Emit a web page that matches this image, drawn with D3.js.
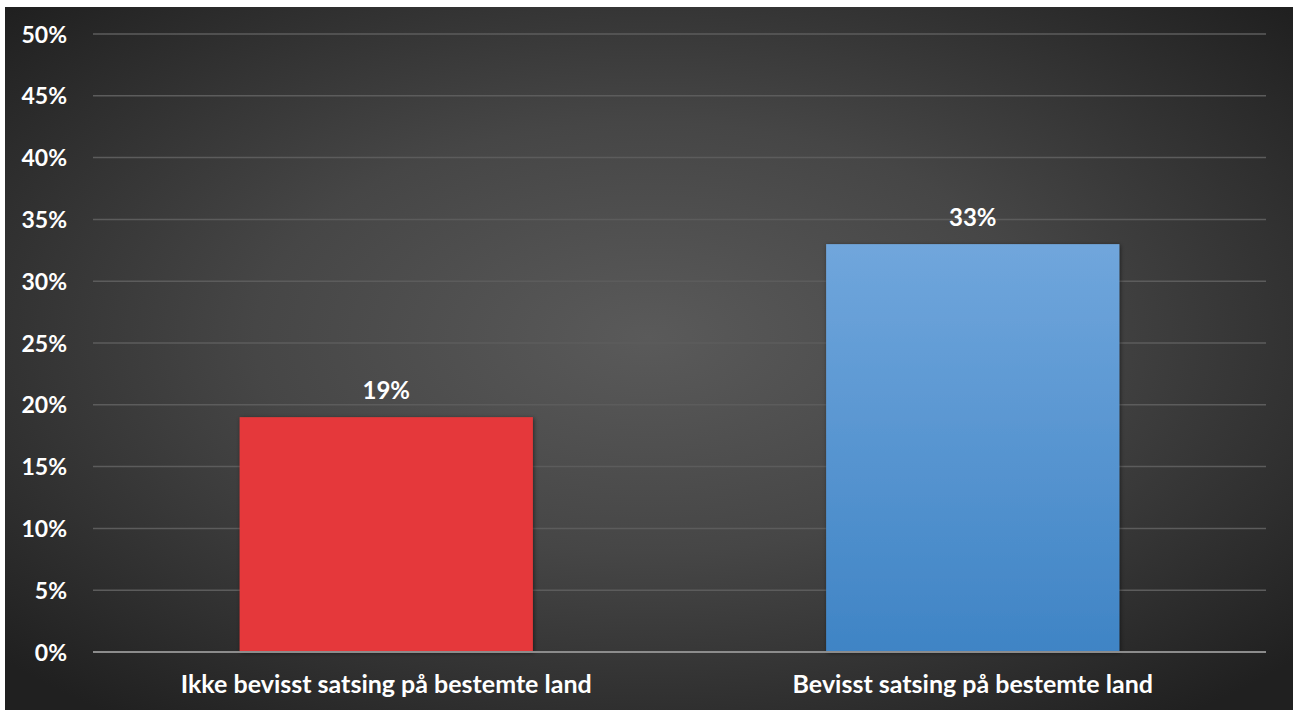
<!DOCTYPE html>
<html>
<head>
<meta charset="utf-8">
<script src="https://cdn.jsdelivr.net/npm/d3@7"></script>
<style>
  html, body { margin: 0; padding: 0; background: #ffffff; }
  svg { display: block; }
</style>
</head>
<body>
<svg id="chart" width="1293" height="710"></svg>
<script>
// Share of respondents per strategy
const categories = ["Ikke bevisst satsing på bestemte land", "Bevisst satsing på bestemte land"];
const values = [0.19, 0.33];
const tickValues = [0, 0.05, 0.10, 0.15, 0.20, 0.25, 0.30, 0.35, 0.40, 0.45, 0.50];

const W = 1293, H = 710;
const svg = d3.select("#chart");
const defs = svg.append("defs");

// Dark radial backdrop
const bg = defs.append("radialGradient").attr("id", "bg")
  .attr("cx", "50%").attr("cy", "47%").attr("r", "68%")
  .attr("gradientUnits", "objectBoundingBox");
bg.append("stop").attr("offset", "0%").attr("stop-color", "#5a5a5a");
bg.append("stop").attr("offset", "45%").attr("stop-color", "#464646");
bg.append("stop").attr("offset", "100%").attr("stop-color", "#202020");

const blue = defs.append("linearGradient").attr("id", "blueFill")
  .attr("x1", 0).attr("y1", 0).attr("x2", 0).attr("y2", 1);
blue.append("stop").attr("offset", "0%").attr("stop-color", "#70a6dc");
blue.append("stop").attr("offset", "100%").attr("stop-color", "#3f84c5");

const shadow = defs.append("filter").attr("id", "shadow")
  .attr("x", "-10%").attr("y", "-10%").attr("width", "120%").attr("height", "120%");
shadow.append("feDropShadow").attr("dx", 1).attr("dy", 1).attr("stdDeviation", 2)
  .attr("flood-color", "#000").attr("flood-opacity", 0.5);

svg.append("rect").attr("x", 5).attr("y", 7).attr("width", W - 5).attr("height", H - 7)
  .attr("fill", "url(#bg)");

const margin = { left: 93, right: 27, top: 34, bottom: 58 };
const x = d3.scaleBand().domain(categories)
  .range([margin.left, W - margin.right]).paddingInner(0.5).paddingOuter(0.25);
const y = d3.scaleLinear().domain([0, 0.5]).range([H - margin.bottom, margin.top]);

const font = "Lato, 'Open Sans', sans-serif";

// Gridlines
svg.append("g").selectAll("line").data(tickValues.filter(d => d > 0)).join("line")
  .attr("x1", margin.left).attr("x2", W - margin.right)
  .attr("y1", d => y(d)).attr("y2", d => y(d))
  .attr("stroke", "#5c5c5c").attr("stroke-width", 1.5);

// Y axis labels
const yAxis = svg.append("g").attr("transform", `translate(${margin.left - 26},0)`)
  .call(d3.axisLeft(y).tickValues(tickValues).tickFormat(d3.format(".0%")).tickSize(0).tickPadding(0));
yAxis.select(".domain").remove();
yAxis.selectAll("text").attr("fill", "#ffffff").attr("font-family", font)
  .attr("font-weight", 700).attr("font-size", 23).attr("dy", "0.35em");

// Bars
const colors = ["#e5393a", "url(#blueFill)"];
svg.append("g").selectAll("rect").data(values).join("rect")
  .attr("x", (d, i) => x(categories[i]))
  .attr("width", x.bandwidth())
  .attr("y", d => y(d))
  .attr("height", d => y(0) - y(d))
  .attr("fill", (d, i) => colors[i])
  .attr("filter", "url(#shadow)");

// Baseline
svg.append("line").attr("x1", margin.left).attr("x2", W - margin.right)
  .attr("y1", y(0)).attr("y2", y(0)).attr("stroke", "#8c8c8c").attr("stroke-width", 2);

// Value labels
svg.append("g").selectAll("text").data(values).join("text")
  .attr("x", (d, i) => x(categories[i]) + x.bandwidth() / 2)
  .attr("y", d => y(d) - 18)
  .attr("text-anchor", "middle").attr("fill", "#ffffff")
  .attr("font-family", font).attr("font-weight", 700).attr("font-size", 24)
  .text(d => d3.format(".0%")(d));

// Category labels
const xAxis = svg.append("g").attr("transform", `translate(0,${y(0)})`)
  .call(d3.axisBottom(x).tickSize(0).tickPadding(23));
xAxis.select(".domain").remove();
xAxis.selectAll("text").attr("fill", "#ffffff").attr("font-family", font)
  .attr("font-weight", 700).attr("font-size", 25).attr("dy", "0.71em");
</script>
</body>
</html>
